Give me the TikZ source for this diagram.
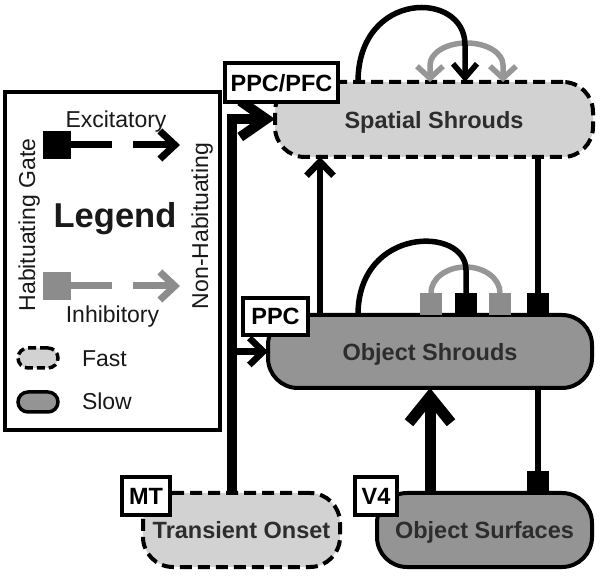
\documentclass[tikz,border=0pt]{standalone}
\usepackage{fontspec}
\setmainfont{Liberation Sans}
\usetikzlibrary{arrows.meta,calc}
\definecolor{lightfill}{RGB}{210,210,210}
\definecolor{midfill}{RGB}{148,148,148}
\definecolor{gatefill}{RGB}{140,140,140}
\definecolor{arcgray}{RGB}{150,150,150}
\definecolor{boxtext}{RGB}{45,45,45}
\begin{document}
\begin{tikzpicture}[x=1pt,y=1pt,
 every node/.style={inner sep=0pt, outer sep=0pt},
 bigfont/.style={font=\fontsize{23.5}{28}\selectfont\bfseries},
 regfont/.style={font=\fontsize{23}{27}\selectfont, text=black!90},
 areabox/.style={draw, line width=4pt, rounded corners=30pt, bigfont, text=boxtext, text depth=0pt},
 fastbox/.style={areabox, fill=lightfill, dash pattern=on 12pt off 6pt},
 slowbox/.style={areabox, fill=midfill},
 tagbox/.style={draw, line width=3.5pt, fill=white, bigfont, text depth=0pt},
 gatesq/.style={fill=black, minimum size=22pt},
 graysq/.style={fill=gatefill, minimum size=22pt},
 thinline/.style={line width=6.5pt},
 arcline/.style={line width=5.5pt},
 thickline/.style={line width=10pt}
]
\useasboundingbox (0,0) rectangle (600,576);
\fill[white] (0,0) rectangle (600,576);

% ---------- Legend ----------
\node[draw, line width=4pt, minimum width=215pt, minimum height=338pt] (leg) at (112.5,315) {};
\node[regfont, anchor=base] (lex) at (116,448) {Excitatory};
\node[fill=black, minimum size=28pt] (lsq1) at (57,431) {};
\coordinate (le1) at (112,431);
\coordinate (la1) at (133,431);
\coordinate (lb1) at (180,431);
\draw[line width=7pt] (lsq1.east) -- (le1);
\draw[line width=7pt, -{Straight Barb[sharp,length=15pt,width=28pt]}] (la1) -- (lb1);
\node[font=\fontsize{34.5}{40}\selectfont\bfseries, text=black!90, anchor=base] (lgd) at (115,348) {Legend};
\node[fill=gatefill, minimum size=28pt] (lsq2) at (57,290) {};
\coordinate (le2) at (112,290);
\coordinate (la2) at (133,290);
\coordinate (lb2) at (180,290);
\draw[line width=7pt, gatefill] (lsq2.east) -- (le2);
\draw[line width=7pt, gatefill, -{Straight Barb[sharp,length=15pt,width=28pt]}] (la2) -- (lb2);
\node[regfont, anchor=base] (lin) at (112.5,253) {Inhibitory};
\node[regfont, anchor=base, rotate=90] (lhg) at (35,351) {Habituating Gate};
\node[regfont, anchor=base, rotate=90] (lnh) at (208,350) {Non-Habituating};
\node[draw, line width=3.5pt, fill=lightfill, dash pattern=on 8pt off 4pt, rounded corners=10pt, minimum width=40pt, minimum height=20pt] (ifast) at (38,218) {};
\node[regfont, anchor=base west] (tfast) at (82,209) {Fast};
\node[draw, line width=3.5pt, fill=midfill, rounded corners=10pt, minimum width=40pt, minimum height=20pt] (islow) at (38,174) {};
\node[regfont, anchor=base west] (tslow) at (82,166) {Slow};

% ---------- Areas ----------
\node[fastbox, minimum width=318pt, minimum height=75pt] (ss) at (434,456.5) {Spatial Shrouds};
\node[slowbox, minimum width=324pt, minimum height=73pt] (os) at (430,224.5) {Object Shrouds};
\node[fastbox, minimum width=197pt, minimum height=74pt] (to) at (241.5,46) {Transient Onset};
\node[slowbox, minimum width=215pt, minimum height=74pt] (osf) at (484.5,46) {Object Surfaces};

% ---------- Gates ----------
\node[graysq] (gs1) at (431,272) {};
\node[graysq] (gs2) at (500,272) {};

\coordinate (tk) at (232,457);
\coordinate (ux) at (320,0);
\coordinate (ol) at (358,0);
\coordinate (br) at (465,0);
\coordinate (gl) at (430,0);
\coordinate (gr) at (503,0);

% gray arcs
\draw[arcgray, arcline] (gs1.north) arc[start angle=180, end angle=0, x radius=34.5, y radius=26];
\draw[arcgray, arcline, {Straight Barb[sharp,length=12pt,width=26pt]}-{Straight Barb[sharp,length=12pt,width=26pt]}]
  (ss.north -| gl) -- ++(0,17) arc[start angle=180, end angle=0, x radius=36.5, y radius=22] -- (ss.north -| gr);

\node[gatesq] (gb1) at (466,272) {};
\node[gatesq] (gb2) at (538,272) {};
\node[gatesq] (gb3) at (538,93.5) {};

% ---------- Connectors ----------
\draw[thickline, line join=miter, -{Straight Barb[sharp,length=26pt,width=36pt]}] (to.north -| tk) -- (tk) -- (tk -| ss.west);
\draw[thinline, -{Straight Barb[sharp,length=14pt,width=27pt]}] (os.west -| tk) -- (os.west);
\draw[thinline, -{Straight Barb[sharp,length=14pt,width=27pt]}] (os.north -| ux) -- (ss.south -| ux);
\draw[thinline] (ss.south -| gb2) -- (gb2.north);
\draw[thinline] (os.south -| gb3) -- (gb3.north);
\draw[line width=11pt, -{Straight Barb[sharp,length=26pt,width=42pt]}] (osf.north -| os.south) -- (os.south);
\draw[arcline] (os.north -| ol) .. controls (358,350) and (466,350) .. (466,306) -- (gb1.north);
\draw[arcline, -{Straight Barb[sharp,length=14pt,width=24pt]}] (ss.north -| ol) .. controls (358,586) and (465,586) .. (465,531) -- (ss.north -| br);

% ---------- Tags ----------
\node[tagbox, minimum width=113pt, minimum height=39pt] (lpfc) at (281.5,493.5) {PPC/PFC};
\node[tagbox, minimum width=65pt, minimum height=37pt] (lppc) at (275.5,259.5) {PPC};
\node[tagbox, minimum width=48pt, minimum height=38pt] (lmt) at (146,80) {MT};
\node[tagbox, minimum width=42pt, minimum height=38pt] (lv4) at (376,80) {V4};
\end{tikzpicture}
\end{document}
